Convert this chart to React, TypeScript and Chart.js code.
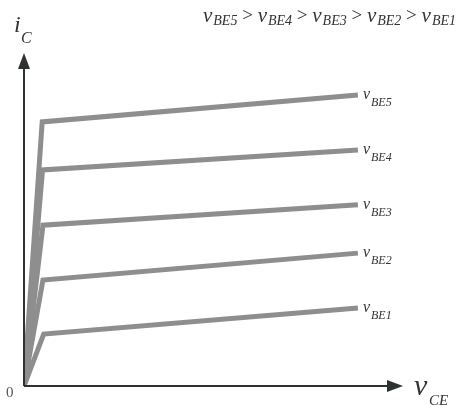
import React, { useEffect, useRef } from "react";
import { Chart, registerables } from "chart.js";

Chart.register(...registerables);

const seriesSubs = ["BE1", "BE2", "BE3", "BE4", "BE5"];
const kneeVce = [0.52, 0.5, 0.5, 0.49, 0.48];
const endVce = [8.81, 8.81, 8.81, 8.81, 8.81];
const kneeIc = [1.56, 3.18, 4.83, 6.49, 7.93];
const endIc = [2.34, 3.99, 5.44, 7.09, 8.74];
const titleOrder = ["BE5", "BE4", "BE3", "BE2", "BE1"];

const LINE = "#8e8e8e";
const AXIS = "#2f3330";
const TEXT = "#333";
const SERIF = '"Liberation Serif", "DejaVu Serif", serif';

function drawSub(ctx: CanvasRenderingContext2D, x: number, y: number, main: string, sub: string, ms: number, ss: number, dy: number) {
  ctx.font = `italic ${ms}px ${SERIF}`;
  ctx.fillText(main, x, y);
  const w = ctx.measureText(main).width;
  ctx.font = `italic ${ss}px ${SERIF}`;
  ctx.fillText(sub, x + w + 1, y + dy);
  return x + w + 1 + ctx.measureText(sub).width;
}

const annot = {
  id: "annot",
  afterDatasetsDraw(chart: any) {
    const ctx: CanvasRenderingContext2D = chart.ctx;
    const xs = chart.scales.x;
    const ys = chart.scales.y;
    const ox = xs.getPixelForValue(0);
    const oy = ys.getPixelForValue(0);
    const tx = xs.getPixelForValue(10);
    const ty = ys.getPixelForValue(10);
    ctx.save();
    // axes
    ctx.strokeStyle = AXIS;
    ctx.fillStyle = AXIS;
    ctx.lineWidth = 2;
    ctx.beginPath();
    ctx.moveTo(ox, oy);
    ctx.lineTo(tx - 10, oy);
    ctx.moveTo(ox, oy);
    ctx.lineTo(ox, ty + 10);
    ctx.stroke();
    ctx.beginPath();
    ctx.moveTo(tx, oy);
    ctx.lineTo(tx - 16, oy - 6);
    ctx.lineTo(tx - 16, oy + 6);
    ctx.closePath();
    ctx.fill();
    ctx.beginPath();
    ctx.moveTo(ox, ty);
    ctx.lineTo(ox - 6, ty + 16);
    ctx.lineTo(ox + 6, ty + 16);
    ctx.closePath();
    ctx.fill();
    // axis labels
    ctx.fillStyle = TEXT;
    ctx.textBaseline = "alphabetic";
    ctx.textAlign = "left";
    ctx.font = `italic 24px ${SERIF}`;
    ctx.fillText("i", 14, 32);
    ctx.font = `italic 16px ${SERIF}`;
    ctx.fillText("C", 21, 43);
    ctx.font = `italic 30px ${SERIF}`;
    ctx.fillText("v", 414, 395);
    ctx.font = `italic 15px ${SERIF}`;
    ctx.fillText("CE", 429, 405);
    ctx.font = `15px ${SERIF}`;
    ctx.fillStyle = "#555";
    ctx.fillText("0", 6, 397);
    // series labels
    ctx.fillStyle = TEXT;
    chart.data.datasets.forEach((ds: any, i: number) => {
      const meta = chart.getDatasetMeta(i);
      const p = meta.data[meta.data.length - 1];
      drawSub(ctx, p.x + 5, p.y + 4, "v", seriesSubs[i], 16, 12, 7);
    });
    // title
    let x = 203;
    titleOrder.forEach((s, i) => {
      x = drawSub(ctx, x, 22, "v", s, 21, 14, 3);
      if (i < titleOrder.length - 1) {
        ctx.font = `19px ${SERIF}`;
        ctx.fillText(" > ", x, 21);
        x += ctx.measureText(" > ").width;
      }
    });
    ctx.restore();
  },
};

export default function App() {
  const ref = useRef<HTMLCanvasElement | null>(null);
  useEffect(() => {
    document.body.style.margin = "0";
    const datasets = seriesSubs.map((s, i) => ({
      label: "v" + s,
      data: [
        { x: 0, y: 0 },
        { x: kneeVce[i], y: kneeIc[i] },
        { x: endVce[i], y: endIc[i] },
      ],
      borderColor: LINE,
      borderWidth: 5,
      pointRadius: 0,
      borderJoinStyle: "miter" as const,
      tension: 0,
      fill: false,
    }));
    const chart = new Chart(ref.current!, {
      type: "line",
      data: { datasets },
      options: {
        responsive: false,
        animation: false,
        layout: { padding: { left: 24, right: 57, top: 53, bottom: 20 } },
        plugins: { legend: { display: false }, tooltip: { enabled: false }, title: { display: false } },
        scales: {
          x: { type: "linear", min: 0, max: 10, display: false },
          y: { type: "linear", min: 0, max: 10, display: false },
        },
      },
      plugins: [annot],
    });
    return () => chart.destroy();
  }, []);
  return (
    <div style={{ width: 460, height: 406, background: "#fff" }}>
      <canvas ref={ref} width={460} height={406} />
    </div>
  );
}
